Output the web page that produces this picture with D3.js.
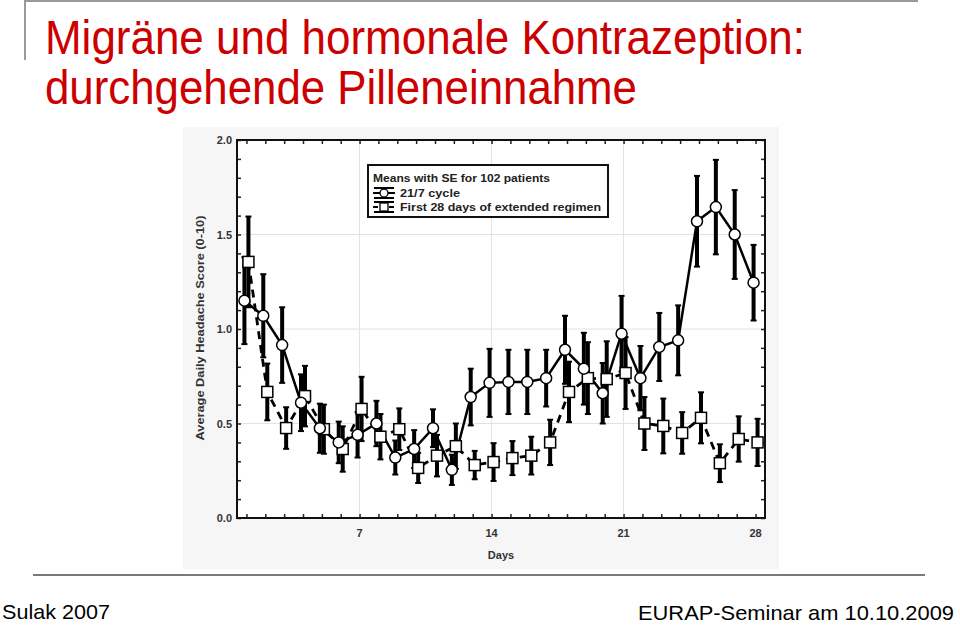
<!DOCTYPE html>
<html>
<head>
<meta charset="utf-8">
<script src="https://cdn.jsdelivr.net/npm/d3@7"></script>
<style>
  html, body { margin: 0; padding: 0; background: #ffffff; }
  svg { display: block; font-family: "Liberation Sans", Arial, sans-serif; }
</style>
</head>
<body>
<svg id="chart" width="960" height="626"></svg>
<script>
// ---- Data ----
const days = [1,2,3,4,5,6,7,8,9,10,11,12,13,14,15,16,17,18,19,20,21,22,23,24,25,26,27,28];
const cycleMeans = [1.15,1.07,0.915,0.61,0.475,0.40,0.44,0.50,0.32,0.365,0.475,0.255,0.64,0.715,0.72,0.72,0.74,0.89,0.79,0.66,0.975,0.74,0.905,0.94,1.57,1.645,1.50,1.245];
const cycleSE    = [0.23,0.22,0.20,0.15,0.13,0.11,0.12,0.12,0.09,0.10,0.10,0.08,0.15,0.18,0.17,0.17,0.15,0.18,0.19,0.16,0.20,0.17,0.18,0.185,0.24,0.25,0.235,0.20];
const extMeans   = [1.355,0.667,0.476,0.645,0.47,0.365,0.577,0.43,0.47,0.265,0.33,0.38,0.28,0.296,0.317,0.33,0.40,0.667,0.74,0.735,0.767,0.50,0.487,0.45,0.53,0.29,0.418,0.40];
const extSE      = [0.24,0.15,0.11,0.16,0.13,0.12,0.17,0.12,0.11,0.08,0.11,0.12,0.075,0.10,0.09,0.10,0.12,0.16,0.19,0.20,0.19,0.14,0.145,0.11,0.135,0.10,0.12,0.125];
const yTickLabels = [0, 0.5, 1.0, 1.5, 2.0];
const xTickLabels = [7, 14, 21, 28];
const legendTitle = "Means with SE for 102 patients";
const seriesNames = ["21/7 cycle", "First 28 days of extended regimen"];
const titleLines = ["Migräne und hormonale Kontrazeption:", "durchgehende Pilleneinnahme"];
const footerLeft = "Sulak 2007";
const footerRight = "EURAP-Seminar am 10.10.2009";
const yLabel = "Average Daily Headache Score (0-10)";
const xLabel = "Days";

// ---- Layout ----
const svg = d3.select("#chart");
const plot = {left: 237, right: 765, top: 140, bottom: 518};
const x = d3.scaleLinear().domain([0.5, 28.5]).range([plot.left, plot.right]);
const y = d3.scaleLinear().domain([0, 2]).range([plot.bottom, plot.top]);

// Slide decorations
svg.append("line").attr("x1", 25).attr("x2", 918).attr("y1", 1).attr("y2", 1)
  .attr("stroke", "#9a9a9a").attr("stroke-width", 2);
svg.append("line").attr("x1", 25).attr("x2", 25).attr("y1", 0).attr("y2", 60)
  .attr("stroke", "#9a9a9a").attr("stroke-width", 2);
svg.append("line").attr("x1", 33).attr("x2", 925).attr("y1", 575).attr("y2", 575)
  .attr("stroke", "#7a7a7a").attr("stroke-width", 2);

// Title
const titleG = svg.append("g").attr("fill", "#cc0000").attr("font-size", 49);
titleG.append("text").attr("x", 45).attr("y", 54).text(titleLines[0])
  .attr("textLength", 760).attr("lengthAdjust", "spacingAndGlyphs");
titleG.append("text").attr("x", 45).attr("y", 104).text(titleLines[1])
  .attr("textLength", 592).attr("lengthAdjust", "spacingAndGlyphs");

// Footer
svg.append("text").attr("x", 2).attr("y", 619).attr("font-size", 21).attr("fill", "#000")
  .text(footerLeft).attr("textLength", 108).attr("lengthAdjust", "spacingAndGlyphs");
svg.append("text").attr("x", 638).attr("y", 620).attr("font-size", 21).attr("fill", "#000")
  .text(footerRight).attr("textLength", 316).attr("lengthAdjust", "spacingAndGlyphs");

// Chart image background
svg.append("rect").attr("x", 183).attr("y", 127).attr("width", 596).attr("height", 442)
  .attr("fill", "#f6f6f6");
svg.append("rect").attr("x", plot.left).attr("y", plot.top)
  .attr("width", plot.right - plot.left).attr("height", plot.bottom - plot.top)
  .attr("fill", "#ffffff");

// Gridlines
const grid = svg.append("g").attr("stroke", "#e2e2e2").attr("stroke-width", 1);
yTickLabels.filter(v => v > 0 && v < 2).forEach(v => {
  grid.append("line").attr("x1", plot.left).attr("x2", plot.right)
    .attr("y1", y(v)).attr("y2", y(v));
});
xTickLabels.filter(v => v < 28).forEach(v => {
  grid.append("line").attr("x1", x(v)).attr("x2", x(v))
    .attr("y1", plot.top).attr("y2", plot.bottom);
});

// Axes (inward ticks)
const minorY = d3.range(0, 21).map(i => i / 10);
const axisColor = "#222";
const leftAxis = d3.axisLeft(y).tickValues(minorY).tickSize(-4).tickFormat("");
const rightAxis = d3.axisRight(y).tickValues(minorY).tickSize(-4).tickFormat("");
const bottomAxis = d3.axisBottom(x).tickValues(days).tickSize(-4).tickFormat("");
const topAxis = d3.axisTop(x).tickValues(days).tickSize(-4).tickFormat("");
[[leftAxis, `translate(${plot.left},0)`], [rightAxis, `translate(${plot.right},0)`],
 [bottomAxis, `translate(0,${plot.bottom})`], [topAxis, `translate(0,${plot.top})`]].forEach(([ax, tr]) => {
  const g = svg.append("g").attr("transform", tr).call(ax);
  g.select(".domain").remove();
  g.selectAll(".tick line").attr("stroke", axisColor).attr("stroke-width", 1.5);
});
svg.append("rect").attr("x", plot.left).attr("y", plot.top)
  .attr("width", plot.right - plot.left).attr("height", plot.bottom - plot.top)
  .attr("fill", "none").attr("stroke", "#111").attr("stroke-width", 2);

// Tick labels
const lblG = svg.append("g").attr("font-size", 11).attr("font-weight", "bold").attr("fill", "#333");
yTickLabels.forEach(v => {
  lblG.append("text").attr("x", plot.left - 5).attr("y", y(v) + 4)
    .attr("text-anchor", "end").text(d3.format(".1f")(v));
});
xTickLabels.forEach(v => {
  lblG.append("text").attr("x", x(v)).attr("y", plot.bottom + 19)
    .attr("text-anchor", "middle").text(v);
});
lblG.append("text").attr("x", 501).attr("y", 559).attr("text-anchor", "middle").text(xLabel);
lblG.append("text").attr("transform", "translate(204,328) rotate(-90)")
  .attr("text-anchor", "middle").attr("textLength", 225).attr("lengthAdjust", "spacingAndGlyphs")
  .text(yLabel);

// Series
const dx = {cycle: -2, ext: 2};
function drawErrorBars(means, se, off) {
  const g = svg.append("g").attr("stroke", "#000");
  days.forEach((d, i) => {
    const cx = x(d) + off;
    g.append("line").attr("x1", cx).attr("x2", cx)
      .attr("y1", y(means[i] + se[i])).attr("y2", y(means[i] - se[i])).attr("stroke-width", 4);
    [means[i] + se[i], means[i] - se[i]].forEach(v => {
      g.append("line").attr("x1", cx - 3).attr("x2", cx + 3)
        .attr("y1", y(v)).attr("y2", y(v)).attr("stroke-width", 2);
    });
  });
}
drawErrorBars(cycleMeans, cycleSE, dx.cycle);
drawErrorBars(extMeans, extSE, dx.ext);

const lineCycle = d3.line().x((d, i) => x(days[i]) + dx.cycle).y(d => y(d));
const lineExt = d3.line().x((d, i) => x(days[i]) + dx.ext).y(d => y(d));
svg.append("path").attr("d", lineExt(extMeans)).attr("fill", "none")
  .attr("stroke", "#000").attr("stroke-width", 2.8).attr("stroke-dasharray", "8,6");
svg.append("path").attr("d", lineCycle(cycleMeans)).attr("fill", "none")
  .attr("stroke", "#000").attr("stroke-width", 2.5);

svg.append("g").selectAll("rect").data(extMeans).join("rect")
  .attr("x", (d, i) => x(days[i]) + dx.ext - 5.5).attr("y", d => y(d) - 5.5)
  .attr("width", 11).attr("height", 11)
  .attr("fill", "#fff").attr("stroke", "#000").attr("stroke-width", 1.5);
svg.append("g").selectAll("circle").data(cycleMeans).join("circle")
  .attr("cx", (d, i) => x(days[i]) + dx.cycle).attr("cy", d => y(d)).attr("r", 5.5)
  .attr("fill", "#fff").attr("stroke", "#000").attr("stroke-width", 1.5);

// Legend
const lg = svg.append("g");
lg.append("rect").attr("x", 368).attr("y", 165).attr("width", 240).attr("height", 52)
  .attr("fill", "#fff").attr("stroke", "#111").attr("stroke-width", 2);
const lt = lg.append("g").attr("font-size", 11).attr("font-weight", "bold").attr("fill", "#222");
lt.append("text").attr("x", 373).attr("y", 182).text(legendTitle)
  .attr("textLength", 177).attr("lengthAdjust", "spacingAndGlyphs");
const rows = [{y: 193, name: seriesNames[0], type: "circle", len: 60},
              {y: 207, name: seriesNames[1], type: "square", len: 201}];
rows.forEach(r => {
  const cx = 384;
  lg.append("line").attr("x1", cx).attr("x2", cx).attr("y1", r.y - 5).attr("y2", r.y + 5)
    .attr("stroke", "#000").attr("stroke-width", 3);
  [r.y - 5, r.y + 5].forEach(yy => lg.append("line").attr("x1", cx - 10).attr("x2", cx + 10)
    .attr("y1", yy).attr("y2", yy).attr("stroke", "#000").attr("stroke-width", 2));
  lg.append("line").attr("x1", cx - 11).attr("x2", cx + 11).attr("y1", r.y).attr("y2", r.y)
    .attr("stroke", "#000").attr("stroke-width", 2)
    .attr("stroke-dasharray", r.type === "square" ? "5,3" : null);
  if (r.type === "circle") {
    lg.append("circle").attr("cx", cx).attr("cy", r.y).attr("r", 4)
      .attr("fill", "#fff").attr("stroke", "#000").attr("stroke-width", 1.3);
  } else {
    lg.append("rect").attr("x", cx - 4).attr("y", r.y - 4).attr("width", 8).attr("height", 8)
      .attr("fill", "#fff").attr("stroke", "#000").attr("stroke-width", 1.3);
  }
  lt.append("text").attr("x", 400).attr("y", r.y + 4).text(r.name)
    .attr("textLength", r.len).attr("lengthAdjust", "spacingAndGlyphs");
});
</script>
</body>
</html>
